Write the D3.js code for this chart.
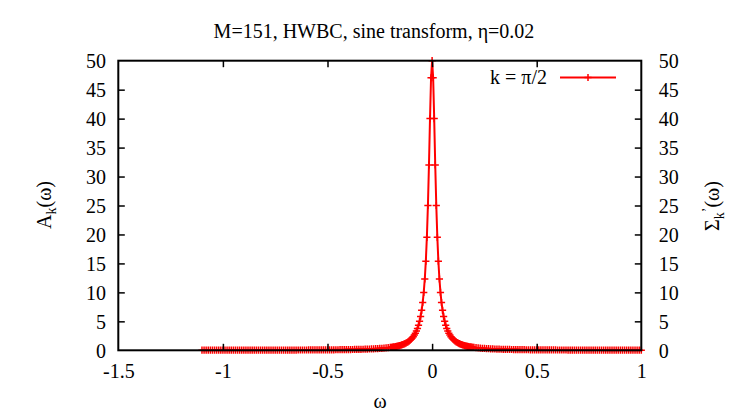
<!DOCTYPE html>
<html>
<head>
<meta charset="utf-8">
<script src="https://cdn.jsdelivr.net/npm/d3@7"></script>
<style>
  body { margin: 0; background: #fff; }
  text { font-family: "Liberation Serif", "Times New Roman", "DejaVu Serif", serif; fill: #000; }
</style>
</head>
<body>
<svg id="vis" width="747" height="417"></svg>
<script>
// left tail, omega from -1.10 to -0.21
var omegaLeft = [-1.10,-1.09,-1.08,-1.07,-1.06,-1.05,-1.04,-1.03,-1.02,-1.01,
  -1.00,-0.99,-0.98,-0.97,-0.96,-0.95,-0.94,-0.93,-0.92,-0.91,
  -0.90,-0.89,-0.88,-0.87,-0.86,-0.85,-0.84,-0.83,-0.82,-0.81,
  -0.80,-0.79,-0.78,-0.77,-0.76,-0.75,-0.74,-0.73,-0.72,-0.71,
  -0.70,-0.69,-0.68,-0.67,-0.66,-0.65,-0.64,-0.63,-0.62,-0.61,
  -0.60,-0.59,-0.58,-0.57,-0.56,-0.55,-0.54,-0.53,-0.52,-0.51,
  -0.50,-0.49,-0.48,-0.47,-0.46,-0.45,-0.44,-0.43,-0.42,-0.41,
  -0.40,-0.39,-0.38,-0.37,-0.36,-0.35,-0.34,-0.33,-0.32,-0.31,
  -0.30,-0.29,-0.28,-0.27,-0.26,-0.25,-0.24,-0.23,-0.22,-0.21];
var ampLeft = [.017,.017,.017,.017,.018,.018,.018,.019,.019,.020,
  .020,.020,.021,.021,.022,.022,.023,.023,.024,.024,
  .025,.025,.026,.026,.027,.028,.028,.029,.030,.030,
  .031,.032,.033,.034,.035,.036,.036,.038,.039,.040,
  .041,.042,.043,.045,.046,.047,.049,.050,.052,.054,
  .055,.057,.059,.061,.064,.066,.068,.071,.074,.077,
  .080,.083,.087,.090,.094,.099,.103,.108,.113,.119,
  .125,.131,.138,.146,.154,.163,.172,.183,.195,.207,
  .221,.237,.254,.273,.294,.318,.345,.375,.410,.449];

// peak region, omega from -0.2 to 0.2
var omegaCore = [-0.200,-0.195,-0.190,-0.185,-0.180,-0.175,-0.170,-0.165,-0.160,-0.155,
  -0.150,-0.145,-0.140,-0.135,-0.130,-0.125,-0.120,-0.115,-0.110,-0.105,
  -0.100,-0.095,-0.090,-0.085,-0.080,-0.075,-0.070,-0.065,-0.060,-0.055,
  -0.050,-0.045,-0.040,-0.035,-0.030,-0.025,-0.020,-0.015,-0.010,-0.005,
  0.000,
  0.005,0.010,0.015,0.020,0.025,0.030,0.035,0.040,0.045,0.050,
  0.055,0.060,0.065,0.070,0.075,0.080,0.085,0.090,0.095,0.100,
  0.105,0.110,0.115,0.120,0.125,0.130,0.135,0.140,0.145,0.150,
  0.155,0.160,0.165,0.170,0.175,0.180,0.185,0.190,0.195,0.200];
var ampCore = [0.50,0.52,0.55,0.58,0.61,0.65,0.68,0.72,0.77,0.82,
  0.87,0.93,1.00,1.07,1.16,1.25,1.35,1.47,1.60,1.75,
  1.92,2.12,2.35,2.62,2.94,3.32,3.77,4.32,5.00,5.84,
  6.90,8.25,10.0,12.31,15.38,19.51,25.0,32.0,40.0,47.06,
  50.0,
  47.06,40.0,32.0,25.0,19.51,15.38,12.31,10.0,8.25,6.90,
  5.84,5.00,4.32,3.77,3.32,2.94,2.62,2.35,2.12,1.92,
  1.75,1.60,1.47,1.35,1.25,1.16,1.07,1.00,0.93,0.87,
  0.82,0.77,0.72,0.68,0.65,0.61,0.58,0.55,0.52,0.50];

// right tail, omega from 0.21 to 1.00
var omegaRight = [0.21,0.22,0.23,0.24,0.25,0.26,0.27,0.28,0.29,0.30,
  0.31,0.32,0.33,0.34,0.35,0.36,0.37,0.38,0.39,0.40,
  0.41,0.42,0.43,0.44,0.45,0.46,0.47,0.48,0.49,0.50,
  0.51,0.52,0.53,0.54,0.55,0.56,0.57,0.58,0.59,0.60,
  0.61,0.62,0.63,0.64,0.65,0.66,0.67,0.68,0.69,0.70,
  0.71,0.72,0.73,0.74,0.75,0.76,0.77,0.78,0.79,0.80,
  0.81,0.82,0.83,0.84,0.85,0.86,0.87,0.88,0.89,0.90,
  0.91,0.92,0.93,0.94,0.95,0.96,0.97,0.98,0.99,1.00];
var ampRight = [.449,.410,.375,.345,.318,.294,.273,.254,.237,.221,
  .207,.195,.183,.172,.163,.154,.146,.138,.131,.125,
  .119,.113,.108,.103,.099,.094,.090,.087,.083,.080,
  .077,.074,.071,.068,.066,.064,.061,.059,.057,.055,
  .054,.052,.050,.049,.047,.046,.045,.043,.042,.041,
  .040,.039,.038,.036,.036,.035,.034,.033,.032,.031,
  .030,.030,.029,.028,.028,.027,.026,.026,.025,.025,
  .024,.024,.023,.023,.022,.022,.021,.021,.020,.020];

var xTicks = [-1.5, -1, -0.5, 0, 0.5, 1];
var yTicks = [0, 5, 10, 15, 20, 25, 30, 35, 40, 45, 50];
var titleText = "M=151, HWBC, sine transform, \u03b7=0.02";
var legendText = "k = \u03c0/2";

var omega = omegaLeft.concat(omegaCore, omegaRight);
var amp = ampLeft.concat(ampCore, ampRight);
var data = omega.map(function(w, i){ return {w: w, a: amp[i]}; });

var margin = {top: 60.7, right: 105.7, bottom: 66.7, left: 118.3},
    width = 747 - margin.left - margin.right,
    height = 417 - margin.top - margin.bottom;

var fs = "20px", fsSub = "14px";

var svg = d3.select("#vis")
  .append("g")
    .attr("transform", "translate(" + margin.left + "," + margin.top + ")");

var x = d3.scaleLinear().domain([-1.5, 1]).range([0, width]);
var y = d3.scaleLinear().domain([0, 50]).range([height, 0]);

var tick = 6.5;
var plain = function(d){ return String(d); }; // gnuplot uses a hyphen minus

// curve: line + plus markers
var red = "#ff0000";
svg.append("path")
    .datum(data)
    .attr("fill", "none")
    .attr("stroke", red)
    .attr("stroke-width", 2)
    .attr("d", d3.line().x(d => x(d.w)).y(d => y(d.a)));

svg.append("g").selectAll("path")
    .data(data)
  .enter().append("path")
    .attr("d", function(d){
      var px = x(d.w), py = y(d.a), s = 3.6;
      return "M" + (px - s) + "," + py + "H" + (px + s) + "M" + px + "," + (py - s) + "V" + (py + s);
    })
    .attr("stroke", red)
    .attr("stroke-width", 1.5)
    .attr("fill", "none");

// axes, ticks pointing inward, drawn over the data like gnuplot's border
var axBottom = svg.append("g")
    .attr("transform", "translate(0," + height + ")")
    .call(d3.axisBottom(x).tickValues(xTicks).tickSizeInner(-tick).tickSizeOuter(0).tickFormat(plain));
var axTop = svg.append("g")
    .call(d3.axisTop(x).tickValues(xTicks).tickSizeInner(-tick).tickSizeOuter(0).tickFormat(""));
var axLeft = svg.append("g")
    .call(d3.axisLeft(y).tickValues(yTicks).tickSizeInner(-tick).tickSizeOuter(0).tickFormat(plain));
var axRight = svg.append("g")
    .attr("transform", "translate(" + width + ",0)")
    .call(d3.axisRight(y).tickValues(yTicks).tickSizeInner(-tick).tickSizeOuter(0).tickFormat(plain));

[axBottom, axTop, axLeft, axRight].forEach(function(g){
  g.select(".domain").remove();
  g.selectAll(".tick line").attr("stroke", "#000").attr("stroke-width", 1.5);
  g.selectAll(".tick text").style("font-size", fs).attr("fill", "#000")
    .style("font-family", "'Liberation Serif', 'Times New Roman', serif");
});
axBottom.selectAll(".tick text").attr("y", 28).attr("dy", 0);
axLeft.selectAll(".tick text").attr("x", -12.3).attr("dy", "0.34em");
axRight.selectAll(".tick text").attr("x", 17.5).attr("dy", "0.34em");

// drop end ticks that sit on the border corners
[axBottom, axTop].forEach(function(g){
  g.selectAll(".tick line").filter(function(d){ return d === -1.5 || d === 1; }).remove();
});
[axLeft, axRight].forEach(function(g){
  g.selectAll(".tick line").filter(function(d){ return d === 0 || d === 50; }).remove();
});

svg.append("rect")
    .attr("width", width)
    .attr("height", height)
    .attr("fill", "none")
    .attr("stroke", "#000")
    .attr("stroke-width", 2);

// title and axis labels
svg.append("text")
    .attr("x", 374 - margin.left)
    .attr("y", 38 - margin.top)
    .attr("text-anchor", "middle")
    .style("font-size", fs)
    .text(titleText);

svg.append("text")
    .attr("x", 380 - margin.left)
    .attr("y", 408 - margin.top)
    .attr("text-anchor", "middle")
    .style("font-size", fs)
    .text("\u03c9");

var yl = svg.append("text")
    .attr("transform", "translate(" + (51 - margin.left) + "," + (205 - margin.top) + ") rotate(-90)")
    .attr("text-anchor", "middle")
    .style("font-size", fs);
yl.append("tspan").text("A");
yl.append("tspan").attr("dy", 5).style("font-size", fsSub).text("k");
yl.append("tspan").attr("dy", -5).text("(\u03c9)");

var yr = svg.append("text")
    .attr("transform", "translate(" + (719 - margin.left) + "," + (206 - margin.top) + ") rotate(-90)")
    .attr("text-anchor", "middle")
    .style("font-size", fs);
yr.append("tspan").text("\u03a3");
yr.append("tspan").attr("dy", 5).style("font-size", fsSub).text("k");
yr.append("tspan").attr("dy", -12).style("font-size", fsSub).text("\u2019");
yr.append("tspan").attr("dy", 7).text("(\u03c9)");

// legend
var lg = svg.append("g").attr("transform", "translate(" + (588 - margin.left) + "," + (77.5 - margin.top) + ")");
lg.append("text")
    .attr("x", -41)
    .attr("y", 6.5)
    .attr("text-anchor", "end")
    .style("font-size", fs)
    .text(legendText);
lg.append("line").attr("x1", -28).attr("x2", 28).attr("stroke", red).attr("stroke-width", 2);
lg.append("path").attr("d", "M-3.6,0H3.6M0,-3.6V3.6").attr("stroke", red).attr("stroke-width", 1.5);
</script>
</body>
</html>
